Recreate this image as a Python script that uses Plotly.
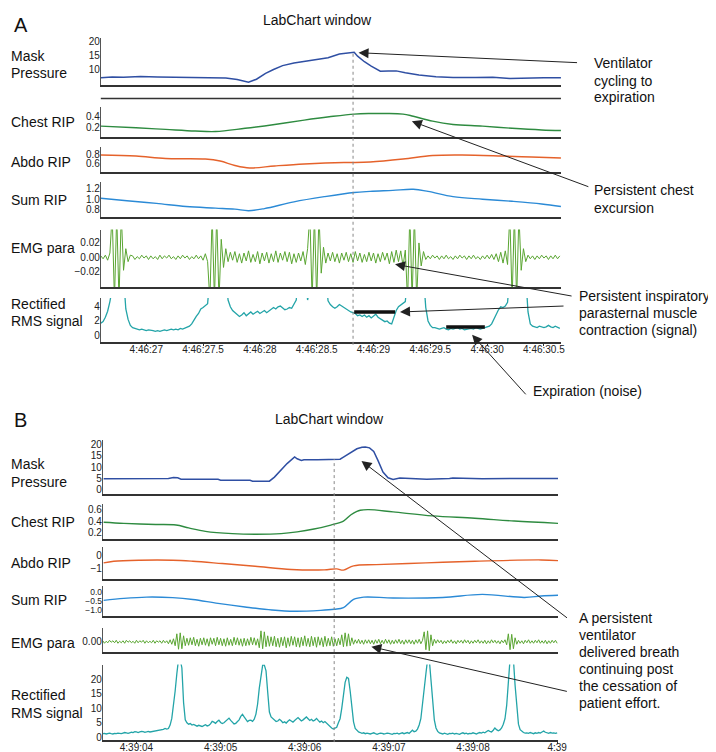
import plotly.graph_objects as go

W, H = 716, 752
FONT = "Liberation Sans, Arial, Helvetica, sans-serif"

# ---------------- Panel A data (time in s after 4:46:00) ----------------
a_press_t = [26.60, 26.70, 26.80, 26.95, 27.10, 27.25, 27.40, 27.55, 27.70, 27.80, 27.90, 27.97, 28.05,
             28.12, 28.20, 28.30, 28.40, 28.50, 28.60, 28.70, 28.78, 28.83, 28.86, 28.92, 28.98, 29.06,
             29.13, 29.20, 29.28, 29.40, 29.55, 29.70, 29.90, 30.05, 30.20, 30.35, 30.50, 30.65]
a_press_v = [7.0, 7.3, 7.2, 7.5, 7.3, 7.2, 7.3, 7.1, 6.9, 6.4, 5.4, 6.5, 8.6, 10.0, 11.4, 12.3, 13.0,
             13.5, 14.2, 15.6, 16.0, 16.2, 14.8, 12.8, 11.2, 9.4, 9.5, 9.5, 8.8, 8.0, 7.4, 7.1, 7.1, 7.2,
             6.8, 7.0, 7.0, 7.0]

a_chest_t = [26.60, 26.91, 27.17, 27.43, 27.61, 27.87, 28.13, 28.39, 28.61, 28.83, 28.97, 29.10, 29.26,
             29.35, 29.52, 29.70, 29.96, 30.22, 30.48, 30.65]
a_chest_v = [0.22, 0.19, 0.16, 0.13, 0.12, 0.18, 0.25, 0.33, 0.39, 0.44, 0.45, 0.45, 0.44, 0.40, 0.31,
             0.25, 0.22, 0.18, 0.15, 0.14]

a_abdo_t = [26.60, 26.91, 27.17, 27.52, 27.65, 27.78, 27.91, 28.13, 28.39, 28.74, 28.83, 28.97, 29.26,
            29.52, 29.78, 30.13, 30.39, 30.65]
a_abdo_v = [0.78, 0.76, 0.71, 0.70, 0.66, 0.57, 0.52, 0.56, 0.60, 0.63, 0.63, 0.64, 0.70, 0.77, 0.78,
            0.76, 0.74, 0.72]

a_sum_t = [26.60, 26.83, 27.09, 27.35, 27.61, 27.78, 27.90, 28.04, 28.30, 28.57, 28.83, 28.97, 29.17,
           29.35, 29.48, 29.70, 29.96, 30.22, 30.48, 30.65]
a_sum_v = [1.02, 0.97, 0.92, 0.86, 0.83, 0.81, 0.78, 0.82, 0.95, 1.05, 1.13, 1.15, 1.17, 1.19, 1.15,
           1.05, 1.00, 0.96, 0.91, 0.86]

# EMG para (x0.001), sampled every 0.02 s from 26.60 s
a_emg_start, a_emg_step = 26.60, 0.02
a_emg_v = ([2, -2, 3, -4, 6] + [60, -60, 60, -60, 60] + [-18, 12, -6, 3] +
           [2, -3, 1, -2, 3, -1, 2, -3, 2, -2, 1, -3, 3, -2, 2, -1, 3, -2, 1, -3, 2, -2, 3, -1, 2, -3, 1,
            -2, 3, -2, 2, -4, 5, -6] +
           [-60, 60, -60, 60, -60] + [25, -14, 12] +
           [-6, 7, -4, 8, -7, 5, -8, 6, -5, 9, -7, 4, -6, 8, -9, 6, -5, 7, -8, 5, -6, 9, -7, 6, -4, 8,
            -6, 7, -9, 5, -7, 6, -5, 8, -10] +
           [12] + [60, -60, 60, -60, 60] + [-22, 14, -8] +
           [6, -5, 7, -6, 5, -8, 6, -4, 7, -6, 5, -7, 8, -5, 6, -7, 4, -6, 7, -5, 6, -8, 5, -6, 7, -4,
            6, -9, 8, -7, 10, -6, 9, -12] +
           [10] + [-60, 60, -60, 60, -60] + [20, -12, 8] +
           [-3, 2, -2, 3, -1, 2, -3, 2, -2, 3, -2, 1, -3, 2, -2, 3, -1, 2, -3, 2, -2, 3, -2, 1, -3, 2,
            -2, 3, -2, 4, -3, 5, -6, 7, -8, 9, -10] +
           [60, -60, 60, -60, 60] + [-18, 12, -6] +
           [3, -2, 2, -3, 2, -2, 3, -1, 2, -3, 2, -2, 3, -2, 2])

# Rectified RMS, sampled every 0.02 s from 26.60 s
a_rms_start, a_rms_step = 26.60, 0.02
a_rms_v = ([1.7, 1.9, 2.5, 3.3, 4.6] + [8, 8, 8, 8, 8, 8] + [3.6, 2.2, 1.4, 1.1, 1.0] +
           [0.9, 0.8, 0.9, 0.8, 0.7, 0.8, 0.8, 0.7, 0.6, 0.7, 0.6, 0.7, 0.8, 0.7, 0.8, 0.9, 0.8, 0.9,
            0.8, 1.0, 0.9, 1.0] +
           [1.1, 1.3, 1.6, 2.2, 2.6, 3.0, 3.6, 3.8, 4.1, 4.3] + [8, 8, 8, 8, 8, 8, 8, 8] +
           [4.8, 3.9, 3.4, 3.1, 2.9, 2.6] +
           [2.8, 3.1, 2.7, 3.0, 3.2, 2.9, 3.1, 3.3, 3.0, 3.2, 3.4, 3.1, 3.3] +
           [3.5, 3.8, 3.6, 3.9, 4.0, 3.7, 3.5, 3.6, 3.8, 3.7, 4.3, 4.8] + [8, 8, 8, 8] + [4.8] +
           [8, 8, 8, 8, 8, 8, 8, 8] +
           [4.7, 4.2, 3.9, 3.7, 3.9, 4.2, 4.0, 3.8, 3.5, 3.3, 3.2, 3.1, 3.0, 2.7, 2.8, 2.6, 2.8, 2.5,
            2.7, 2.4, 2.6, 2.9, 2.5, 2.3, 2.1, 1.9, 2.0, 1.7, 1.6, 2.4, 3.4, 3.9, 4.1, 4.3, 4.6] +
           [8, 8, 8, 8, 8, 8, 8, 8] + [3.8, 2.0, 1.4, 1.1] +
           [1.1, 1.0, 0.9, 1.0, 1.1, 0.9, 0.8, 1.0, 0.9, 1.0, 1.1, 0.9, 1.0, 0.8, 0.9, 1.0, 1.0, 0.9,
            1.1, 1.0, 0.9, 1.0, 1.1, 1.2] +
           [1.3, 1.6, 2.3, 2.9, 3.5, 3.9, 3.8, 4.0, 4.5] + [8, 8, 8, 8, 8, 8, 8, 8] + [3.2, 1.6, 1.3] +
           [1.2, 1.1, 1.3, 1.2, 1.1, 1.2, 1.4, 1.2, 1.1, 1.3, 1.2, 1.0])

a_bar1_t, a_bar1_v = [28.83, 29.19], [3.2, 3.2]
a_bar2_t, a_bar2_v = [29.64, 29.98], [1.2, 1.2]
a_marker_t = 28.82

a_ticks = [27, 27.5, 28, 28.5, 29, 29.5, 30, 30.5]
a_ticktext = ["4:46:27", "4:46:27.5", "4:46:28", "4:46:28.5", "4:46:29", "4:46:29.5", "4:46:30",
              "4:46:30.5"]

# ---------------- Panel B data (time in s after 4:39:00) ----------------
b_press_t = [3.61, 3.80, 4.00, 4.20, 4.38, 4.44, 4.49, 4.53, 4.75, 4.97, 5.00, 5.20, 5.35, 5.38, 5.58,
             5.64, 5.72, 5.79, 5.88, 5.91, 5.96, 5.99, 6.15, 6.35, 6.42, 6.46, 6.55, 6.62, 6.68, 6.72,
             6.77, 6.82, 6.87, 6.93, 6.99, 7.05, 7.13, 7.40, 7.45, 7.72, 7.76, 8.11, 8.46, 8.70, 9.01]
b_press_v = [4.9, 4.9, 4.9, 4.9, 5.0, 5.4, 5.3, 4.7, 4.7, 4.6, 4.2, 4.2, 4.2, 3.8, 3.8, 5.6, 8.6, 11.5,
             14.4, 13.6, 12.9, 13.2, 13.2, 13.2, 13.4, 14.3, 16.5, 18.0, 18.7, 18.8, 18.4, 16.8, 12.9,
             7.8, 5.3, 4.6, 5.2, 4.9, 4.7, 5.0, 5.2, 4.9, 5.0, 4.9, 5.0]

b_chest_t = [3.61, 3.85, 4.23, 4.47, 4.62, 4.82, 5.14, 5.41, 5.72, 5.91, 6.11, 6.31, 6.46, 6.55, 6.62,
             6.66, 6.76, 7.05, 7.52, 8.02, 8.49, 9.01]
b_chest_v = [0.38, 0.36, 0.34, 0.33, 0.28, 0.22, 0.18, 0.17, 0.18, 0.21, 0.26, 0.33, 0.40, 0.51, 0.57,
             0.59, 0.60, 0.56, 0.49, 0.45, 0.40, 0.36]

b_abdo_t = [3.61, 3.73, 4.04, 4.43, 4.67, 5.02, 5.41, 5.84, 6.23, 6.38, 6.46, 6.58, 6.85, 7.44, 8.02,
            8.81, 9.01]
b_abdo_v = [-0.59, -0.46, -0.38, -0.38, -0.46, -0.64, -0.85, -1.10, -1.13, -1.05, -1.15, -0.82, -0.72,
            -0.59, -0.46, -0.36, -0.41]

b_sum_t = [3.61, 3.85, 4.12, 4.43, 4.67, 4.97, 5.29, 5.61, 5.88, 6.19, 6.35, 6.46, 6.58, 6.70, 7.05,
           7.64, 8.11, 8.61, 8.81, 9.01]
b_sum_v = [-0.46, -0.35, -0.28, -0.31, -0.41, -0.63, -0.83, -1.00, -1.07, -1.02, -0.96, -0.87, -0.41,
           -0.28, -0.33, -0.30, -0.13, -0.30, -0.22, -0.18]

b_emg_start, b_emg_step = 3.60, 0.02
b_emg_v = ([2, -3, 1, -2, 3, -1, 2, -2, 3, -3, 1, -2, 2, -3, 3, -1, 2, -2, 1, -3, 3, -2, 2, -1, 3, -3,
            2, -2, 1, -2, 3, -3, 2, -1, 2, -3, 3, -2, 2, -4, 4, -5] +
           [6, -8] + [16, -15, 18, -14, 12] + [-8, 7] +
           [-7, 8, -6, 9, -8, 5, -9, 7, -6, 8, -7, 6, -9, 8, -5, 7, -8, 9, -6, 7, -8, 6, -9, 8, -7, 5,
            -8, 9, -6, 8, -7, 6, -9, 7, -8, 6, -7, 9, -6, 8, -7, 6] +
           [-12, 22, -14, 20, -10, 12] +
           [-9, 10, -8, 11, -10, 7, -11, 9, -8, 10, -12, 8, -9, 11, -7, 10, -10, 8, -11, 9, -8, 12, -9,
            7, -10, 11, -8, 9, -11, 10, -7, 8, -10, 11, -9, 7, -8, 10, -9, 6, -8, 7, -6] +
           [14, -10, 18, -9, 16, -8, 8] +
           [-5, 4, -3, 5, -4, 3, -5, 4, -3, 4, -4, 3, -5, 4, -3, 5, -4, 3, -4, 5, -3, 4, -5, 3, -4, 4,
            -3, 5, -4, 3, -5, 4, -3, 4, -4, 3, -5, 4, -3, 5, -4, 3] +
           [20, -16, 22, -18, 14] + [-8, 5] +
           [-3, 4, -2, 3, -4, 2, -3, 3, -2, 4, -3, 2, -4, 3, -2, 3, -3, 4, -2, 3, -4, 2, -3, 3, -2, 4,
            -3, 2, -3, 3, -4, 2, -3, 4, -2, 3, -3, 2, -4, 3, -2, 4, -6] +
           [16, -16, 15, -14] + [8, -5] +
           [3, -3, 2, -4, 3, -2, 4, -3, 2, -3, 3, -2, 4, -3, 2, -3, 3, -4, 2, -3, 3, -2, 3, -3])

b_rms_start, b_rms_step = 3.60, 0.02
b_rms_v = ([1.2] + [1.3, 1.1, 1.2, 1.4, 1.2, 1.1, 1.3, 1.2, 1.4, 1.3] +
           [1.2, 1.4, 1.6, 1.5, 1.3, 1.5, 1.7, 1.6, 1.9, 1.8] +
           [1.6, 1.8, 2.0, 1.9, 1.7, 1.8, 2.0, 1.8, 1.9, 2.1] +
           [2.3, 2.2, 2.4, 2.6, 2.5, 2.7, 3.0, 2.8] +
           [3.0, 4.2, 6.5, 10.5, 16, 22, 27, 27, 24, 12, 6.0, 5.0] +
           [4.5, 4.7, 4.2, 4.4, 4.0, 3.8, 4.1, 3.9, 3.7, 4.0, 4.3, 3.9] +
           [4.1, 4.6, 5.5, 5.2, 4.8, 5.4, 5.9, 5.1, 4.7, 5.0] +
           [5.6, 6.2, 6.6, 5.8, 5.0, 4.6, 4.8, 5.3] +
           [6.0, 7.2, 7.9, 7.0, 6.0, 5.4, 5.8] +
           [5.9, 5.5, 6.2, 8.0, 11.5, 17, 22, 25, 25, 23, 15.6, 8.7, 7.0] +
           [6.4, 6.0, 5.4, 5.6, 6.2, 5.7, 5.0, 5.3, 4.9, 5.5, 6.0, 5.6] +
           [5.2, 5.8, 6.4, 6.8, 6.2, 5.6, 6.0, 6.6, 7.0, 6.4, 5.8, 6.2, 5.6] +
           [5.9, 6.5, 5.8, 5.2, 5.6, 5.0, 5.4, 4.8] +
           [4.4, 3.6, 3.2, 2.8, 3.0, 3.4, 5.0, 6.4, 10, 14.5, 19, 20.8, 20.4, 16, 11, 5.3, 3.0, 2.2] +
           [1.8, 1.6, 1.3, 1.5, 1.2, 1.4, 1.3, 1.1, 1.3, 1.5, 1.2, 1.0, 1.2, 1.4, 1.3, 1.1, 1.2, 1.4,
            1.3] +
           [1.2, 1.0, 1.3, 1.2, 1.4, 1.1, 1.3, 1.5, 1.2, 1.4, 1.6, 1.3] +
           [1.8, 2.4, 1.9, 2.1, 2.8, 4.2, 6.4, 11, 17, 22, 27, 27, 20, 13, 6.0, 3.2, 2.0] +
           [1.5, 1.3, 1.1, 1.4, 1.2, 1.0, 1.3, 1.2, 1.4, 1.1, 1.3, 1.2, 1.0, 1.3, 1.5, 1.2, 1.4, 1.1,
            1.3, 1.2, 1.5, 1.3, 1.1, 1.4, 1.6] +
           [1.4, 1.7, 1.5, 1.9, 2.3, 2.0, 1.8, 2.4, 3.2] +
           [2.6, 2.2, 2.5, 3.2, 4.5, 6.4, 11, 18, 27, 27, 27, 18, 11, 4.5, 2.6, 1.9] +
           [1.6, 1.4, 1.5, 1.3, 1.6, 1.4, 1.2, 1.5, 1.3, 1.6, 1.4, 1.8, 2.1, 1.7, 1.5, 1.3, 1.6, 1.4,
            1.5, 1.3, 1.5])

b_marker_t = 6.35
b_ticks = [4, 5, 6, 7, 8, 9]
b_ticktext = ["4:39:04", "4:39:05", "4:39:06", "4:39:07", "4:39:08", "4:39"]


def timebase(start, step, n):
    return [round(start + step * i, 4) for i in range(n)]


# ---------------- colours ----------------
C_PRESS = "#2f4fa3"
C_CHEST = "#2e8b40"
C_ABDO = "#e5622b"
C_SUM = "#2b8ad6"
C_EMG = "#5aa532"
C_RMS = "#23a4a8"


def xd(px):
    return px / W


def yd(py):
    return 1 - py / H


A_X = (94, 560)
B_X = (96, 557)
A_RANGE = [26.60, 30.65]
B_RANGE = [3.60, 9.01]

# subplot specs: (panel, top px, bottom px, y range, tickvals, ticktext, tick font size)
subplots = [
    ("A", 28, 75, [4.6, 21.4], [10, 15, 20], ["10", "15", "20"], 10),
    ("A", 98, 128, [0.018, 0.563], [0.2, 0.4], ["0.2", "0.4"], 10),
    ("A", 138, 163, [0.44, 0.94], [0.6, 0.8], ["0.6", "0.8"], 10),
    ("A", 173, 208, [0.667, 1.333], [0.8, 1.0, 1.2], ["0.8", "1.0", "1.2"], 10),
    ("A", 221, 279, [-41.4, 38.6], [-20, 0, 20], ["\u22120.02", "0.00", "0.02"], 10),
    ("A", 290, 334, [-0.8, 5.067], [0, 2, 4], ["0", "2", "4"], 10),
    ("B", 433, 487, [-1.7, 21.78], [0, 5, 10, 15, 20], ["0", "5", "10", "15", "20"], 10),
    ("B", 497, 533, [0.078, 0.704], [0.2, 0.4, 0.6], ["0.2", "0.4", "0.6"], 10),
    ("B", 541, 573, [-1.85, 0.61], [-1, 0], ["\u22121", "0"], 10),
    ("B", 580, 610, [-1.333, 0.333], [-1, -0.5, 0], ["\u22121.0", "\u22120.5", "0.0"], 8.5),
    ("B", 622, 646, [-20, 28], [0], ["0.00"], 10),
    ("B", 659, 735, [-1.03, 25.17], [0, 5, 10, 15, 20], ["0", "5", "10", "15", "20"], 10),
]

series = [
    (a_press_t, a_press_v, C_PRESS, 1.5, "linear"),
    (a_chest_t, a_chest_v, C_CHEST, 1.4, "spline"),
    (a_abdo_t, a_abdo_v, C_ABDO, 1.4, "spline"),
    (a_sum_t, a_sum_v, C_SUM, 1.4, "spline"),
    (timebase(a_emg_start, a_emg_step, len(a_emg_v)), a_emg_v, C_EMG, 1.0, "linear"),
    (timebase(a_rms_start, a_rms_step, len(a_rms_v)), a_rms_v, C_RMS, 1.3, "linear"),
    (b_press_t, b_press_v, C_PRESS, 1.5, "linear"),
    (b_chest_t, b_chest_v, C_CHEST, 1.4, "spline"),
    (b_abdo_t, b_abdo_v, C_ABDO, 1.4, "spline"),
    (b_sum_t, b_sum_v, C_SUM, 1.4, "spline"),
    (timebase(b_emg_start, b_emg_step, len(b_emg_v)), b_emg_v, C_EMG, 1.0, "linear"),
    (timebase(b_rms_start, b_rms_step, len(b_rms_v)), b_rms_v, C_RMS, 1.3, "linear"),
]

fig = go.Figure()
layout = {}
for k, ((panel, top, bot, yr, tv, tt, fs), (xs, ys, col, lw, shape)) in enumerate(zip(subplots, series), start=1):
    sfx = "" if k == 1 else str(k)
    xdom = A_X if panel == "A" else B_X
    xr = A_RANGE if panel == "A" else B_RANGE
    fig.add_trace(go.Scatter(x=xs, y=ys, mode="lines", line=dict(color=col, width=lw, shape=shape),
                             xaxis="x" + sfx, yaxis="y" + sfx, showlegend=False, hoverinfo="skip"))
    bottom = k in (6, 12)
    xa = dict(domain=[xd(xdom[0]), xd(xdom[1])], anchor="y" + sfx, range=xr, showline=True,
              linecolor="#333333", linewidth=1.5, showgrid=False, zeroline=False,
              ticks="outside" if bottom else "", ticklen=2, tickcolor="#333333",
              showticklabels=bottom, tickfont=dict(size=10, color="#222222", family=FONT))
    if bottom:
        xa["tickvals"] = a_ticks if panel == "A" else b_ticks
        xa["ticktext"] = a_ticktext if panel == "A" else b_ticktext
        xa["ticklabelstandoff"] = -5
    layout["xaxis" + sfx] = xa
    layout["yaxis" + sfx] = dict(domain=[yd(bot), yd(top)], anchor="x" + sfx, range=yr, showline=True,
                                 linecolor="#555555", linewidth=1, showgrid=False, zeroline=False,
                                 ticks="", tickvals=tv, ticktext=tt, ticklabelstandoff=-2,
                                 tickfont=dict(size=fs, color="#222222", family=FONT))

# black marker bars on the RMS trace of panel A
for bt, bv in ((a_bar1_t, a_bar1_v), (a_bar2_t, a_bar2_v)):
    fig.add_trace(go.Scatter(x=bt, y=bv, mode="lines", line=dict(color="#111111", width=3.5),
                             xaxis="x6", yaxis="y6", showlegend=False, hoverinfo="skip"))

shapes = [
    dict(type="line", xref="x", yref="paper", x0=a_marker_t, x1=a_marker_t, y0=yd(337), y1=yd(43),
         line=dict(color="#888888", width=1, dash="dot")),
    dict(type="line", xref="x7", yref="paper", x0=b_marker_t, x1=b_marker_t, y0=yd(737), y1=yd(452),
         line=dict(color="#888888", width=1, dash="dot")),
    dict(type="line", xref="paper", yref="paper", x0=xd(94), x1=xd(560), y0=yd(89), y1=yd(89),
         line=dict(color="#333333", width=1.5)),
]

annotations = []


def text(s, x, y, size=14, anchor="left"):
    annotations.append(dict(text=s, x=xd(x), y=yd(y), xref="paper", yref="paper", showarrow=False,
                            xanchor=anchor, yanchor="middle", font=dict(size=size, color="#111111",
                                                                        family=FONT)))


def arrow(tail, head):
    annotations.append(dict(text="", x=xd(head[0]), y=yd(head[1]), xref="paper", yref="paper",
                            ax=tail[0] - head[0], ay=tail[1] - head[1], axref="pixel", ayref="pixel",
                            showarrow=True, arrowhead=2, arrowsize=2, arrowwidth=1,
                            arrowcolor="#222222", standoff=0, startstandoff=0))


text("A", 4, 15, size=20)
text("B", 4, 413, size=20)
text("LabChart window", 313, 10, anchor="center")
text("LabChart window", 326, 412, anchor="center")

labels = [("Mask", 46), ("Pressure", 63), ("Chest RIP", 113), ("Abdo RIP", 153), ("Sum RIP", 191),
          ("EMG para", 240), ("Rectified", 296), ("RMS signal", 313),
          ("Mask", 457), ("Pressure", 475), ("Chest RIP", 515), ("Abdo RIP", 557), ("Sum RIP", 594),
          ("EMG para", 637), ("Rectified", 690), ("RMS signal", 708)]
for s, y in labels:
    text(s, 1, y)

for s, y in (("Ventilator", 53), ("cycling to", 71), ("expiration", 88)):
    text(s, 591, y)
for s, y in (("Persistent chest", 181), ("excursion", 199)):
    text(s, 591, y)
for s, y in (("Persistent inspiratory", 288), ("parasternal muscle", 305), ("contraction (signal)", 322)):
    text(s, 576, y)
text("Expiration (noise)", 530, 384)
for s, y in (("A persistent", 612), ("ventilator", 629), ("delivered breath", 646),
             ("continuing post", 663), ("the cessation of", 681), ("patient effort.", 698)):
    text(s, 576, y)

arrow((575, 53), (355, 43))
arrow((587, 178), (409, 112))
arrow((570, 288), (392, 256))
arrow((562, 298), (397, 304))
arrow((525, 388), (470, 327))
arrow((565, 612), (358, 454))
arrow((565, 686), (368, 641))

fig.update_layout(width=W, height=H, margin=dict(l=0, r=0, t=0, b=0), autosize=False,
                  paper_bgcolor="white", plot_bgcolor="white", showlegend=False,
                  font=dict(family=FONT, size=11, color="#222222"),
                  shapes=shapes, annotations=annotations, **layout)

fig.write_html("out.html")
